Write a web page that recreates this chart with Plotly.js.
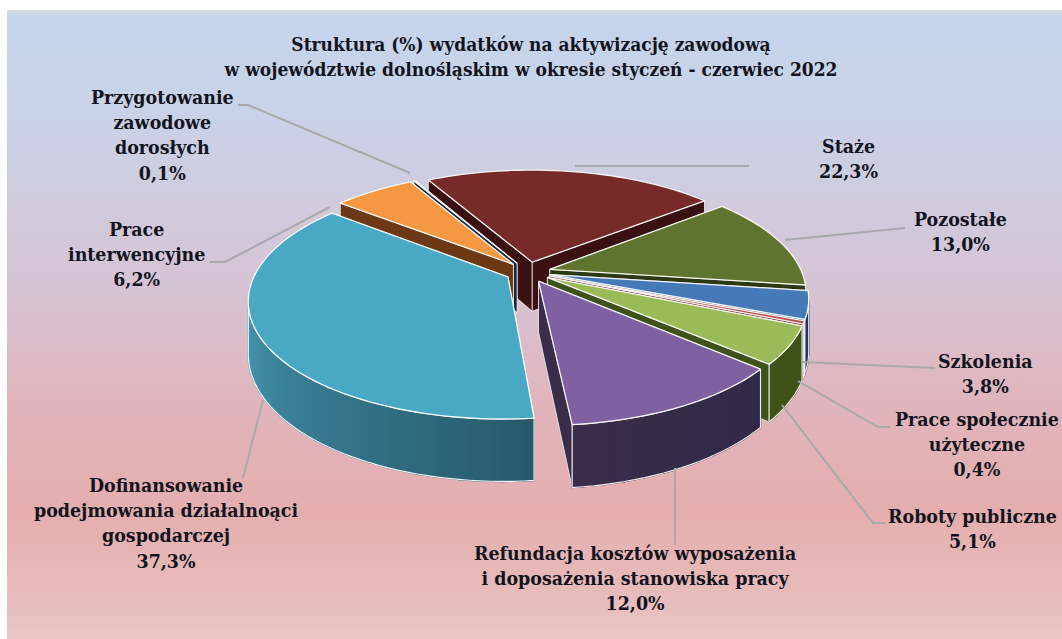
<!DOCTYPE html>
<html><head><meta charset="utf-8">
<script src="https://cdn.plot.ly/plotly-3.0.1.min.js"></script>
<style>
html,body{margin:0;padding:0;background:#fff;width:1062px;height:639px;overflow:hidden}
#frame{position:absolute;left:7px;top:10px;width:1055px;height:629px;
background:linear-gradient(180deg,#d8dcd8 0,#c4d5ec 6px,#c9d3e8 15%,#d5c5d6 42%,#e0b5bd 62%,#e5aeae 80%,#e8bebe 95%,#eac8c8 100%)}
#chart{position:absolute;left:0;top:0;width:1062px;height:639px}
</style></head><body>
<div id="frame"></div><div id="chart"></div>
<script>
const titleText = 'Struktura (%) wydatków na aktywizację zawodową<br>w województwie dolnośląskim w okresie styczeń - czerwiec 2022';
const categories = ['Staże','Pozostałe','Szkolenia','Prace społecznie<br>użyteczne','Roboty publiczne','Refundacja kosztów wyposażenia<br>i doposażenia stanowiska pracy','Dofinansowanie<br>podejmowania działalnoąci<br>gospodarczej','Prace<br>interwencyjne','Przygotowanie<br>zawodowe<br>dorosłych'];
const values = [22.3,13.0,3.8,0.4,5.1,12.0,37.3,6.2,0.1];
const topColors = ['#772B29','#5F752F','#4579B8','#C0504D','#9BBB59','#7F60A0','#49A9C5','#F49844','#2C4D75'];
const wallStart = ['#3A1110','#2B3A14','#1F3864','#6E2523','#3F5219','#3B2C4A','#4594AE','#6B3A14','#16273D'];
const wallEnd   = ['#3A1110','#2B3A14','#1F3864','#6E2523','#3F5219','#322848','#265A6B','#6B3A14','#16273D'];
// painter's order, back to front
const paintOrder = [0,8,7,1,2,3,4,5,6];
// label centres and leader paths (page pixels)
const labelPos = [[848,158.5],[960,231.5],[985,373.5],[977,444.5],[972,528.5],[635,578.5],[166,523.5],[136,254.5],[162,135.5]];
const leaders = [
 [[575,166],[749,166]],
 [[785,240],[905,228]],
 [[802,362],[935,368]],
 [[798,381],[878,427],[890,427]],
 [[782,405],[873,523],[885,523]],
 [[675,468],[675,545]],
 [[263,400],[243,478]],
 [[330,207],[225,262],[210,262]],
 [[410,173],[248,105],[238,105]]
];
// projected disk model
const cx=528, cy=272, rx=252, ry=113, k=0.19, depth=50, explode=0.09;
const total = values.reduce((a,b)=>a+b,0);
const startDeg = -29;
const rad = d=>d*Math.PI/180;
function proj(u,v,z){const w=1/(1-k*v);return [cx+rx*u*w, cy+ry*v*w+z*depth*w];}
function hex(c){return [1,3,5].map(i=>parseInt(c.substr(i,2),16));}
function mix(a,b,t){const A=hex(a),B=hex(b);return 'rgb('+A.map((x,i)=>Math.round(x+(B[i]-x)*t)).join(',')+')';}
const traces=[];
function poly(pts,fill,line,width){
  traces.push({type:'scatter',mode:'lines',x:pts.map(p=>p[0]),y:pts.map(p=>p[1]),
    fill:fill?'toself':'none',fillcolor:fill||undefined,
    line:{color:line,width:width,simplify:false},hoverinfo:'skip',showlegend:false});
}
let acc=0;
const slices=values.map((val,i)=>{
  const a=startDeg+acc/total*360; acc+=val; const b=startDeg+acc/total*360;
  return {a,b,mid:(a+b)/2};
});
const EDGE='rgba(255,255,255,0.9)';
paintOrder.forEach(i=>{
  const s=slices[i];
  const du=explode*Math.sin(rad(s.mid)), dv=-explode*Math.cos(rad(s.mid));
  const rim=t=>[du+Math.sin(rad(t)),dv-Math.cos(rad(t))];
  const n=Math.max(2,Math.ceil((s.b-s.a)/2));
  const ang=[];for(let j=0;j<=n;j++)ang.push(s.a+(s.b-s.a)*j/n);
  const P=(uv,z)=>proj(uv[0],uv[1],z);
  const apex=[du,dv];
  // cut faces, farther one first
  [s.a,s.b].sort((p,q)=>rim(p)[1]-rim(q)[1]).forEach(t=>{
    const r=rim(t);
    poly([P(apex,0),P(r,0),P(r,1),P(apex,1),P(apex,0)],wallStart[i],EDGE,0.8);
  });
  // outer wall: only the part facing the viewer, split into shaded segments
  const vis=ang.filter(t=>Math.cos(rad(t))<-k);
  if(vis.length>1){
    const top=vis.map(t=>P(rim(t),0)), bot=vis.map(t=>P(rim(t),1));
    const m=vis.length-1;
    for(let j=0;j<m;j++){
      const col=mix(wallStart[i],wallEnd[i],1-j/(m-1||1));
      poly([top[j],top[j+1],bot[j+1],bot[j],top[j]],col,col,1.5);
    }
    poly(top.concat(bot.slice().reverse()).concat([top[0]]),null,EDGE,1.2);
  }
  // top face
  const rimTop=ang.map(t=>P(rim(t),0));
  const face=[P(apex,0)].concat(rimTop).concat([P(apex,0)]);
  poly(face,topColors[i],EDGE,1.3);
});
leaders.forEach(path=>{
  traces.push({type:'scatter',mode:'lines',x:path.map(p=>p[0]),y:path.map(p=>p[1]),
    line:{color:'#A9A9AC',width:2},hoverinfo:'skip',showlegend:false});
});
const FONT='"DejaVu Serif Condensed", "DejaVu Serif", serif';
const annotations=categories.map((c,i)=>({
  x:labelPos[i][0],y:labelPos[i][1],xref:'x',yref:'y',xanchor:'center',yanchor:'middle',
  showarrow:false,align:'center',
  text:'<b>'+c+'<br>'+values[i].toFixed(1).replace('.',',')+'%</b>',
  font:{family:FONT,size:19.4,color:'#14141e'}
}));
const layout={
  width:1062,height:639,margin:{l:0,r:0,t:0,b:0},
  paper_bgcolor:'rgba(0,0,0,0)',plot_bgcolor:'rgba(0,0,0,0)',
  title:{text:'<b>'+titleText+'</b>',x:0.5,xanchor:'center',y:0.9195,yanchor:'bottom',yref:'paper',
    font:{family:FONT,size:19,color:'#14141e'}},
  xaxis:{range:[0,1062],visible:false,fixedrange:true},
  yaxis:{range:[639,0],visible:false,fixedrange:true},
  annotations,showlegend:false
};
Plotly.newPlot('chart',traces,layout,{displayModeBar:false,staticPlot:true});
</script></body></html>
